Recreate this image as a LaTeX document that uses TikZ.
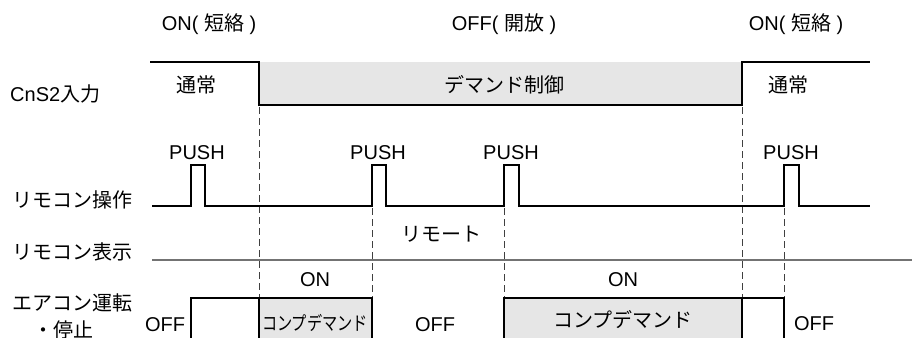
\documentclass[tikz,border=0pt]{standalone}
\usepackage{fontspec}
\setmainfont{Liberation Sans}
\newfontfamily\cjk{Noto Sans CJK JP}
\definecolor{boxgray}{HTML}{E6E6E6}
\begin{document}
\begin{tikzpicture}[x=1pt,y=-1pt,
  sig/.style={line width=2.5pt, line join=miter, line cap=butt},
  guide/.style={line width=0.9pt, dash pattern=on 7pt off 4pt, black!75},
  lbl/.style={inner sep=0pt, text height=14.3pt, text depth=0pt, font=\fontsize{20}{24}\selectfont},
  small/.style={inner sep=0pt, text height=14.3pt, text depth=0pt, font=\fontsize{19}{23}\selectfont},
]
\useasboundingbox (0,0) rectangle (912,337);
\clip (0,0) rectangle (912,337);

% fills
\fill[boxgray] (259,62) rectangle (742,105);
\fill[boxgray] (259,298) rectangle (372,345);
\fill[boxgray] (504,298) rectangle (742,345);

% guides
\draw[guide] (259,107) -- (259,297);
\draw[guide] (742,107) -- (742,297);
\draw[guide] (372,208) -- (372,297);
\draw[guide] (504,208) -- (504,297);
\draw[guide] (784,208) -- (784,297);

% remote display line
\draw[black!55, line width=1.4pt] (152,260) -- (912,260);

% CnS2 input
\draw[sig] (150,62) -- (259,62) -- (259,105) -- (742,105) -- (742,62) -- (870,62);
% remote operation
\draw[sig] (152,206) -- (191,206) -- (191,165) -- (205,165) -- (205,206)
  -- (372,206) -- (372,165) -- (386,165) -- (386,206)
  -- (504,206) -- (504,165) -- (519,165) -- (519,206)
  -- (784,206) -- (784,165) -- (799,165) -- (799,206) -- (870,206);
% aircon run/stop
\draw[sig] (191,345) -- (191,298) -- (372,298) -- (372,345);
\draw[sig] (259,298) -- (259,345);
\draw[sig] (504,345) -- (504,298) -- (784,298) -- (784,345);
\draw[sig] (742,298) -- (742,345);

% top labels
\node[lbl] (on1) at (209,23) {ON( {\cjk 短絡} )};
\node[lbl] (off1) at (504,23) {OFF( {\cjk 開放} )};
\node[lbl] (on2) at (796,23) {ON( {\cjk 短絡} )};

% row labels
\node[lbl, anchor=west] (cns) at (10,94) {CnS2{\cjk 入力}};
\node[lbl, anchor=west] (rop) at (12,200) {\cjk リモコン操作};
\node[lbl, anchor=west] (rdisp) at (12,252) {\cjk リモコン表示};
\node[lbl, anchor=west] (ac1) at (12,303) {\cjk エアコン運転};
\node[lbl, anchor=west] (ac2) at (33,330) {\cjk ・停止};

% CnS2 states
\node[lbl] (norm1) at (196,85) {\cjk 通常};
\node[lbl] (dem) at (504,85) {\cjk デマンド制御};
\node[lbl] (norm2) at (788,85) {\cjk 通常};

% PUSH labels
\node[lbl] (p1) at (197,152) {PUSH};
\node[lbl] (p2) at (378,152) {PUSH};
\node[lbl] (p3) at (511,152) {PUSH};
\node[lbl] (p4) at (791,152) {PUSH};

% remote display
\node[lbl] (remote) at (441,234) {\cjk リモート};

% aircon labels
\node[lbl] (aon1) at (315,279) {ON};
\node[lbl] (aon2) at (623,279) {ON};
\node[lbl] (aoff1) at (165,324) {OFF};
\node[lbl] (aoff2) at (435,324) {OFF};
\node[lbl] (aoff3) at (814,323) {OFF};
\node[small] (cd1) at (315,323) {\scalebox{0.8}[1]{\cjk コンプデマンド}};
\node[lbl] (cd2) at (623,320) {\cjk コンプデマンド};
\end{tikzpicture}
\end{document}
